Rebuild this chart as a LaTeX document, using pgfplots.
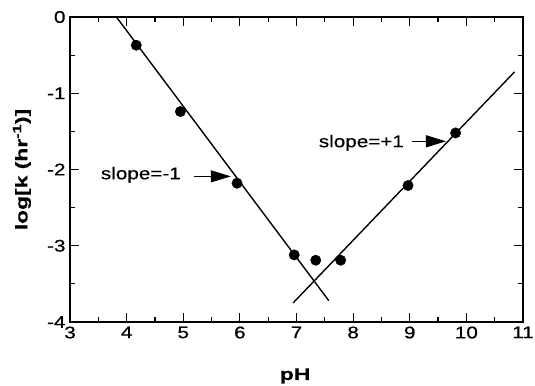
\documentclass[border=0pt]{standalone}
\usepackage{fontspec}
\setmainfont{Liberation Sans}[FakeStretch=1.22, FakeBold=0.5, BoldFeatures={FakeStretch=1.35}]
\usepackage{pgfplots}
\pgfplotsset{compat=1.18}
\usetikzlibrary{arrows.meta}
\begin{document}
\begin{tikzpicture}
\begin{axis}[
  scale only axis, width=453bp, height=305bp,
  xmin=3, xmax=11, ymin=-4, ymax=0,
  xtick={3,4,...,11}, ytick={-4,-3,...,0},
  minor x tick num=1, minor y tick num=1,
  tick align=inside,
  major tick length=9bp, minor tick length=5bp,
  axis line style={line width=1.4pt},
  every tick/.style={line width=1.2pt, black},
  ticklabel style={font=\fontsize{17}{19}\selectfont},
  xticklabel style={yshift=-1bp},
  yticklabel style={xshift=-1bp},
  /pgf/number format/assume math mode=true,
  xlabel={pH}, ylabel={log[k (hr\textsuperscript{-1})]},
  label style={font=\fontsize{17}{19}\selectfont\bfseries},
  xlabel style={at={(axis description cs:0.497,-0.19)}, anchor=base},
  ylabel style={at={(axis description cs:-0.106,0.5)}, anchor=center, rotate=0},
  clip=false,
]
\addplot[only marks, mark=*, mark size=5.2bp, black] coordinates {
  (4.17,-0.37) (4.95,-1.24) (5.95,-2.18) (6.96,-3.12)
  (7.34,-3.19) (7.78,-3.19) (8.97,-2.21) (9.81,-1.52)
};
\addplot[no marks, black, line width=1.4pt] coordinates {(3.82,0) (7.57,-3.72)};
\addplot[no marks, black, line width=1.4pt] coordinates {(6.94,-3.75) (10.85,-0.72)};
\draw[line width=1.2pt, -{Triangle[length=20bp,width=12bp]}] (axis cs:5.19,-2.09) -- (axis cs:5.84,-2.09);
\node[anchor=east, font=\fontsize{17}{19}\selectfont, inner sep=0pt] at (axis cs:4.96,-2.07) {slope=-1};
\draw[line width=1.2pt, -{Triangle[length=20bp,width=12bp]}] (axis cs:9.04,-1.63) -- (axis cs:9.64,-1.63);
\node[anchor=east, font=\fontsize{17}{19}\selectfont, inner sep=0pt] at (axis cs:8.90,-1.65) {slope=+1};
\end{axis}
\pgfresetboundingbox
\useasboundingbox ([shift={(-70bp,-63bp)}]current axis.south west) rectangle ([shift={(12bp,17bp)}]current axis.north east);
\end{tikzpicture}
\end{document}
